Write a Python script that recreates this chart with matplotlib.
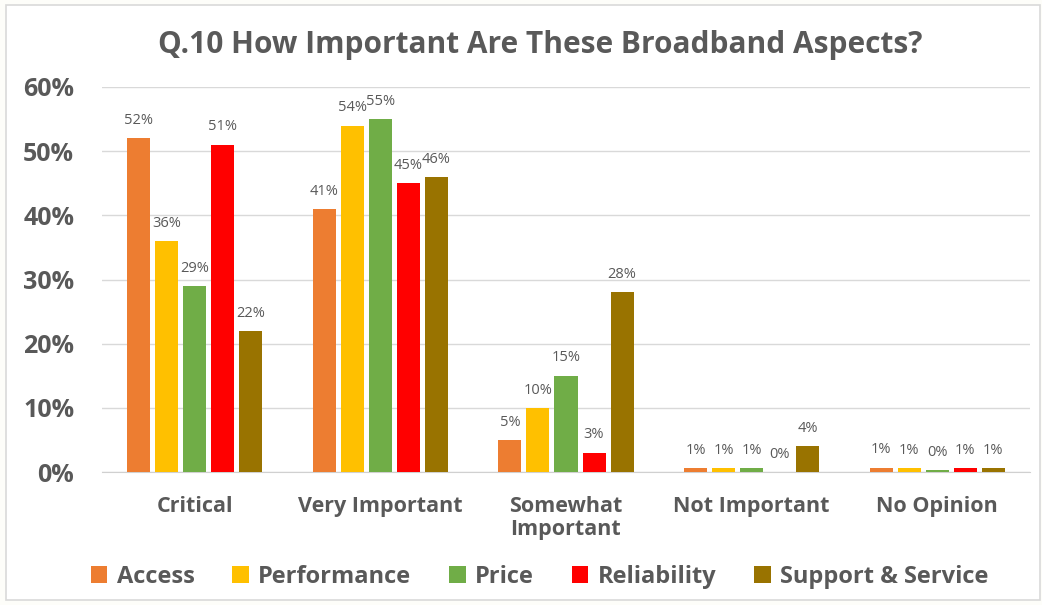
import numpy as np
import matplotlib.pyplot as plt
from matplotlib.patches import Rectangle
from matplotlib.ticker import FuncFormatter

categories = ["Critical", "Very Important", "Somewhat\nImportant", "Not Important", "No Opinion"]
series = ["Access", "Performance", "Price", "Reliability", "Support & Service"]
access = [52, 41, 5, 0.6, 0.7]
performance = [36, 54, 10, 0.6, 0.6]
price = [29, 55, 15, 0.6, 0.3]
reliability = [51, 45, 3, 0.0, 0.6]
support = [22, 46, 28, 4, 0.6]
colors = ["#ED7D31", "#FFC000", "#70AD47", "#FF0000", "#997300"]

values = [access, performance, price, reliability, support]
grey = "#595959"
plt.rcParams['font.family'] = ['Open Sans', 'DejaVu Sans']

fig = plt.figure(figsize=(10.42, 6.05), dpi=100)
fig.patch.set_facecolor("#fdfdf9")
fig.patches.append(Rectangle((0.006, 0.008), 0.992, 0.984, transform=fig.transFigure,
                             facecolor="white", edgecolor="#d9d9d9", linewidth=1.2, zorder=-1))
ax = fig.add_axes([102 / 1042, 1 - 472 / 605, 928 / 1042, 385 / 605])
ax.set_facecolor("none")

x = np.arange(len(categories))
pitch = 0.151
width = 0.124
for i, (name, vals, c) in enumerate(zip(series, values, colors)):
    pos = x + (i - 2) * pitch
    bars = ax.bar(pos, vals, width, color=c, label=name, zorder=3)
    for b, v in zip(bars, vals):
        ax.text(b.get_x() + b.get_width() / 2, v + 1.6, f"{v:.0f}%", ha="center", va="bottom",
                fontsize=10.5, color=grey)

ax.set_xlim(-0.5, 4.5)
ax.set_ylim(0, 60)
ax.set_yticks(np.arange(0, 61, 10))
ax.yaxis.set_major_formatter(FuncFormatter(lambda v, p: f"{v:.0f}%"))
ax.grid(axis="y", color="#d9d9d9", linewidth=1, zorder=0)
for s in ["top", "right", "left"]:
    ax.spines[s].set_visible(False)
ax.spines["bottom"].set_color("#d0d0d0")
ax.tick_params(axis="y", length=0, pad=20, labelsize=18, labelcolor=grey)
ax.tick_params(axis="x", length=0, pad=17, labelsize=15.5, labelcolor=grey)
for t in ax.get_yticklabels():
    t.set_fontweight("bold")
ax.set_xticks(x)
ax.set_xticklabels(categories, fontweight="bold", linespacing=1.15)

fig.text(0.518, 0.925, "Q.10 How Important Are These Broadband Aspects?", ha="center", va="center",
         fontsize=21.5, fontweight="bold", color=grey)

fig.legend(loc="center", bbox_to_anchor=(0.518, 0.047), ncol=5, frameon=False,
           prop={"weight": "bold", "size": 17}, labelcolor=grey, handlelength=0.7, handleheight=0.7,
           handletextpad=0.4, columnspacing=1.6)

fig.savefig("out.png", dpi=100, facecolor=fig.get_facecolor())
